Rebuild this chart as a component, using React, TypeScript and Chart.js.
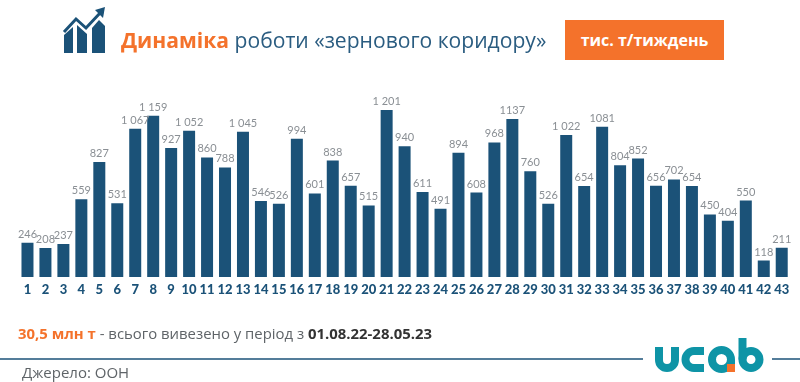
import React, { useEffect, useRef } from "react";
import { Chart, registerables } from "chart.js";

Chart.register(...registerables);

const weeks = ["1","2","3","4","5","6","7","8","9","10","11","12","13","14","15","16","17","18","19","20","21","22","23","24","25","26","27","28","29","30","31","32","33","34","35","36","37","38","39","40","41","42","43"];
const volumes = [246,208,237,559,827,531,1067,1159,927,1052,860,788,1045,546,526,994,601,838,657,515,1201,940,611,491,894,608,968,1137,760,526,1022,654,1081,804,852,656,702,654,450,404,550,118,211];
const valueLabels = ["246","208","237","559","827","531","1 067","1 159","927","1 052","860","788","1 045","546","526","994","601","838","657","515","1 201","940","611","491","894","608","968","1137","760","526","1 022","654","1081","804","852","656","702","654","450","404","550","118","211"];

const NAVY = "#1b5278";
const ORANGE = "#f4722b";
const TEAL = "#0e94a6";
const FONT = "Lato, 'Open Sans', sans-serif";
const WIDE = "'Open Sans', Lato, sans-serif";

const labelPlugin = {
  id: "valueLabels",
  afterDatasetsDraw(chart: any) {
    const { ctx } = chart;
    const meta = chart.getDatasetMeta(0);
    ctx.save();
    ctx.font = `400 11px ${FONT}`;
    ctx.fillStyle = "#8a8f94";
    ctx.textAlign = "center";
    ctx.textBaseline = "bottom";
    meta.data.forEach((bar: any, i: number) => {
      ctx.fillText(valueLabels[i], bar.x, bar.y - 3);
    });
    ctx.restore();
  },
};

const abs = (s: React.CSSProperties): React.CSSProperties => ({ position: "absolute", whiteSpace: "nowrap", margin: 0, ...s });

export default function App() {
  const ref = useRef<HTMLCanvasElement>(null);
  useEffect(() => {
    const chart = new Chart(ref.current!, {
      type: "bar",
      data: {
        labels: weeks,
        datasets: [{ data: volumes, backgroundColor: NAVY, borderWidth: 0, barPercentage: 0.668, categoryPercentage: 1 }],
      },
      options: {
        animation: false,
        responsive: false,
        layout: { padding: { left: 18.5, right: 9.3, top: 0, bottom: 0 } },
        plugins: { legend: { display: false }, tooltip: { enabled: false } },
        scales: {
          x: {
            afterFit: (s: any) => { s.height = 105; },
            grid: { display: false },
            border: { display: false },
            ticks: {
              autoSkip: false,
              maxRotation: 0,
              padding: -3,
              color: NAVY,
              font: { family: FONT, size: 13, weight: "900" },
            },
          },
          y: { display: false, min: 0, max: 1992 },
        },
      },
      plugins: [labelPlugin],
    } as any);
    return () => chart.destroy();
  }, []);

  return (
    <div style={{ position: "fixed", left: 0, top: 0, width: 800, height: 382, background: "#fff", overflow: "hidden", fontFamily: WIDE }}>
      <canvas ref={ref} width={800} height={382} style={{ position: "absolute", left: 0, top: 0, display: "block" }} />
      <svg width="800" height="382" style={{ position: "absolute", left: 0, top: 0 }}>
        <g fill={NAVY}>
          <polygon points="64,35 73,27 73,53 64,53" />
          <polygon points="77,25 87,34 87,53 77,53" />
          <polygon points="92,28 99,20 105,26 105,53 92,53" />
        </g>
        <polyline points="64,32 76,19 86,28 101,12" fill="none" stroke={NAVY} strokeWidth="3" />
        <polygon points="105,7 95,10 103,18" fill={NAVY} />
        <line x1="0" y1="359" x2="643" y2="359" stroke={NAVY} strokeWidth="1.5" />
        <line x1="772" y1="359" x2="800" y2="359" stroke={NAVY} strokeWidth="1.5" />
        <g fill="none" stroke={TEAL} strokeWidth="8">
          <path d="M 659 347 V 360 a 8 8 0 0 0 16 0 V 347" />
          <path d="M 704 351 H 694 a 8.5 8.5 0 0 0 0 17 H 704" />
          <circle cx="721.5" cy="359.5" r="9.5" />
          <path d="M 731 359.5 V 372" />
          <path d="M 742.5 338 V 359.5" />
          <circle cx="751" cy="359.5" r="8.5" />
        </g>
        <rect x="727" y="364" width="8" height="8" fill={ORANGE} />
      </svg>
      <div style={abs({ left: 121, top: 26, fontSize: 21.1, color: "#2a5c80", lineHeight: "28px" })}>
        <b style={{ color: ORANGE }}>Динаміка</b> роботи «зернового коридору»
      </div>
      <div style={abs({ left: 565, top: 20, width: 159, height: 40, background: ORANGE, color: "#fff", fontWeight: 700, fontSize: 16, lineHeight: "40px", textAlign: "center" })}>
        тис. т/тиждень
      </div>
      <div style={abs({ left: 18, top: 324, fontSize: 14.9, color: "#5f6468", lineHeight: "18px" })}>
        <b style={{ color: ORANGE }}>30,5 млн т</b> - всього вивезено у період з <b style={{ color: "#333" }}>01.08.22-28.05.23</b>
      </div>
      <div style={abs({ left: 22, top: 363, fontSize: 15, color: "#5f6468", lineHeight: "18px" })}>Джерело: ООН</div>
    </div>
  );
}
